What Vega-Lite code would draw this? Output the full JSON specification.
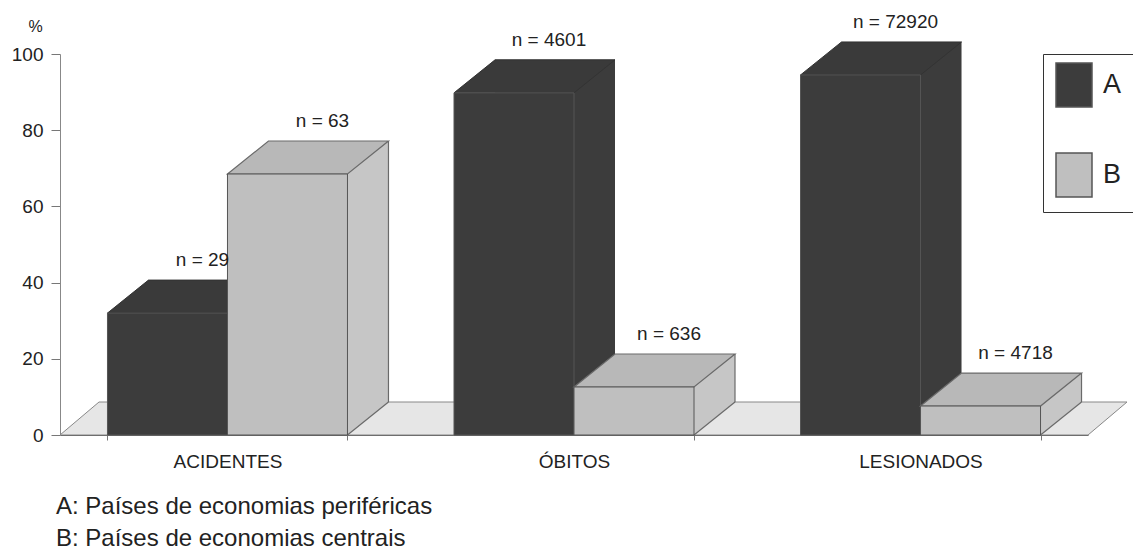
{
  "$schema": "https://vega.github.io/schema/vega-lite/v6.json",
  "width": 1028,
  "height": 381,
  "autosize": "none",
  "padding": {"left": 60, "top": 54, "right": 45, "bottom": 120},
  "background": "white",
  "config": {"view": {"stroke": null}, "font": "Liberation Sans"},
  "data": {
    "values": [
      {"categoria": "ACIDENTES", "grupo": "A", "pct": 32.0, "n": 29, "rotulo": "n = 29"},
      {"categoria": "ACIDENTES", "grupo": "B", "pct": 68.5, "n": 63, "rotulo": "n = 63"},
      {"categoria": "ÓBITOS", "grupo": "A", "pct": 89.8, "n": 4601, "rotulo": "n = 4601"},
      {"categoria": "ÓBITOS", "grupo": "B", "pct": 12.6, "n": 636, "rotulo": "n = 636"},
      {"categoria": "LESIONADOS", "grupo": "A", "pct": 94.5, "n": 72920, "rotulo": "n = 72920"},
      {"categoria": "LESIONADOS", "grupo": "B", "pct": 7.6, "n": 4718, "rotulo": "n = 4718"}
    ]
  },
  "title": {
    "text": ["A: Países de economias periféricas", "B: Países de economias centrais"],
    "orient": "bottom",
    "anchor": "start",
    "frame": "group",
    "fontSize": 24,
    "fontWeight": "normal",
    "font": "Liberation Sans",
    "color": "#222",
    "lineHeight": 32,
    "offset": 24,
    "dx": -4
  },
  "encoding": {
    "x": {
      "field": "categoria",
      "type": "nominal",
      "sort": ["ACIDENTES", "ÓBITOS", "LESIONADOS"],
      "scale": {"paddingInner": 0.3074, "paddingOuter": 0.137},
      "axis": {
        "title": null,
        "labelAngle": 0,
        "labelFontSize": 19,
        "labelColor": "#222",
        "labelFont": "Liberation Sans",
        "tickBand": "extent",
        "tickSize": 5,
        "tickColor": "#777",
        "domainColor": "#555",
        "labelPadding": 12,
        "grid": false
      }
    },
    "y": {
      "field": "pct",
      "type": "quantitative",
      "scale": {"domain": [0, 100], "nice": false},
      "axis": {
        "title": "%",
        "titleAngle": 0,
        "titleFontSize": 16,
        "titleFontWeight": "normal",
        "titleColor": "#222",
        "titleX": -25,
        "titleY": -28,
        "titleAlign": "center",
        "titleBaseline": "middle",
        "values": [0, 20, 40, 60, 80, 100],
        "labelFontSize": 19,
        "labelColor": "#222",
        "labelFont": "Liberation Sans",
        "tickSize": 9,
        "labelPadding": 8,
        "domainColor": "#888",
        "tickColor": "#777",
        "grid": false
      }
    }
  },
  "layer": [
    {
      "transform": [{"filter": "datum.categoria === 'ÓBITOS' && datum.grupo === 'A'"}],
      "mark": {"type": "point", "shape": "M -5.14 0 L -4.75 -0.33 L 5.53 -0.33 L 5.14 0 Z", "size": 40000, "filled": true, "fill": "#e6e6e6", "stroke": "#888", "strokeWidth": 1, "opacity": 1},
      "encoding": {"y": {"datum": 0}}
    },
    {
      "transform": [{"filter": "datum.grupo === 'A'"}],
      "mark": {"type": "bar", "width": 120, "xOffset": -19, "yOffset": -33, "y2Offset": -33, "fill": "#3c3c3c", "strokeWidth": 0}
    },
    {
      "transform": [{"filter": "datum.grupo === 'A'"}],
      "mark": {"type": "point", "shape": "M 0.6 0 L 1.01 -0.33 L 0.6 -0.33 Z", "size": 40000, "xOffset": -60, "filled": true, "fill": "#3c3c3c", "strokeWidth": 0, "opacity": 1},
      "encoding": {"y": {"datum": 0}}
    },
    {
      "transform": [{"filter": "datum.grupo === 'A'"}],
      "mark": {"type": "point", "shape": "M -0.6 0 L -0.19 -0.33 L 1.01 -0.33 L 0.6 0 Z", "size": 40000, "xOffset": -60, "filled": true, "fill": "#3a3a3a", "stroke": "#333", "strokeWidth": 1, "opacity": 1}
    },
    {
      "transform": [{"filter": "datum.grupo === 'A'"}],
      "mark": {"type": "bar", "width": 120, "xOffset": -60, "stroke": "#555", "strokeWidth": 1},
      "encoding": {
        "color": {
          "field": "grupo",
          "type": "nominal",
          "scale": {"domain": ["A", "B"], "range": ["#3c3c3c", "#bfbfbf"]},
          "legend": {
            "orient": "none",
            "legendX": 983,
            "legendY": 0,
            "title": null,
            "symbolType": "M -1 -1.22 L 1 -1.22 L 1 1.22 L -1 1.22 Z",
            "symbolSize": 1296,
            "symbolStrokeColor": "#444",
            "symbolStrokeWidth": 1.5,
            "symbolOpacity": 1,
            "labelFontSize": 27,
            "labelFont": "Liberation Sans",
            "labelColor": "#222",
            "labelOffset": 10,
            "rowPadding": 40,
            "padding": 12,
            "strokeColor": "#333",
            "fillColor": "white"
          }
        }
      }
    },
    {
      "transform": [{"filter": "datum.grupo === 'B'"}],
      "mark": {"type": "bar", "width": 120, "xOffset": 101, "yOffset": -33, "y2Offset": -33, "fill": "#c6c6c6", "strokeWidth": 0}
    },
    {
      "transform": [{"filter": "datum.grupo === 'B'"}],
      "mark": {"type": "point", "shape": "M 0.6 0 L 1.01 -0.33 L 0.6 -0.33 Z", "size": 40000, "xOffset": 60, "filled": true, "fill": "#c6c6c6", "strokeWidth": 0, "opacity": 1},
      "encoding": {"y": {"datum": 0}}
    },
    {
      "transform": [{"filter": "datum.grupo === 'B'"}],
      "mark": {"type": "rule", "xOffset": 161, "yOffset": -33, "y2Offset": -33, "stroke": "#6a6a6a", "strokeWidth": 1.2},
      "encoding": {"y2": {"datum": 0}}
    },
    {
      "transform": [{"filter": "datum.grupo === 'B'"}],
      "mark": {"type": "point", "shape": "M 0.6 0 L 1.01 -0.33", "size": 40000, "xOffset": 60, "filled": false, "stroke": "#6a6a6a", "strokeWidth": 1.2, "opacity": 1},
      "encoding": {"y": {"datum": 0}}
    },
    {
      "transform": [{"filter": "datum.grupo === 'B'"}],
      "mark": {"type": "point", "shape": "M -0.6 0 L -0.19 -0.33 L 1.01 -0.33 L 0.6 0 Z", "size": 40000, "xOffset": 60, "filled": true, "fill": "#b8b8b8", "stroke": "#6a6a6a", "strokeWidth": 1.2, "opacity": 1}
    },
    {
      "transform": [{"filter": "datum.grupo === 'B'"}],
      "mark": {"type": "bar", "width": 120, "xOffset": 60, "stroke": "#555", "strokeWidth": 1},
      "encoding": {
        "color": {
          "field": "grupo",
          "type": "nominal",
          "scale": {"domain": ["A", "B"], "range": ["#3c3c3c", "#bfbfbf"]}
        }
      }
    },
    {
      "transform": [{"filter": "datum.grupo === 'A'"}],
      "mark": {"type": "text", "xOffset": -25, "dy": -53, "baseline": "middle", "align": "center", "fontSize": 19, "font": "Liberation Sans", "fill": "#222"},
      "encoding": {"text": {"field": "rotulo"}}
    },
    {
      "transform": [{"filter": "datum.grupo === 'B'"}],
      "mark": {"type": "text", "xOffset": 95, "dy": -53, "baseline": "middle", "align": "center", "fontSize": 19, "font": "Liberation Sans", "fill": "#222"},
      "encoding": {"text": {"field": "rotulo"}}
    }
  ]
}
